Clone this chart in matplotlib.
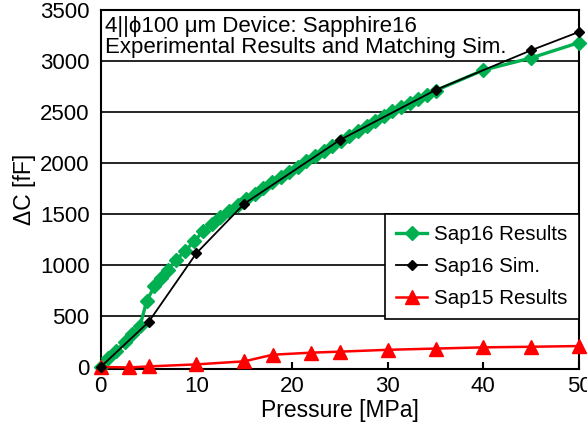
import matplotlib.pyplot as plt

plt.rcParams['font.family'] = ['Liberation Sans', 'DejaVu Sans']

# Sap16 experimental results
sap16_p = [0, 0.8, 1.6, 2.5, 3.3, 4.1, 4.8, 5.6, 6.3, 7.0, 7.9, 8.8, 9.8, 10.7,
           11.6, 12.5, 13.4, 14.3, 15.2, 16.1, 17.0, 17.9, 18.8, 19.7, 20.6,
           21.5, 22.4, 23.3, 24.2, 25.1, 26.0, 26.9, 27.8, 28.7, 29.6, 30.5,
           31.4, 32.3, 33.2, 34.1, 35.0, 40, 45, 50]
sap16_c = [0, 85, 160, 240, 320, 400, 645, 790, 870, 950, 1050, 1135, 1235, 1330,
           1400, 1470, 1530, 1585, 1645, 1700, 1755, 1810, 1865, 1915, 1965,
           2015, 2065, 2115, 2165, 2215, 2265, 2315, 2365, 2415, 2460, 2505,
           2550, 2590, 2630, 2670, 2710, 2910, 3030, 3180]

# Sap16 simulation
sim_p = [0, 5, 10, 15, 25, 35, 45, 50]
sim_c = [0, 440, 1115, 1600, 2225, 2715, 3105, 3285]

# Sap15 experimental results
sap15_p = [0, 3, 5, 10, 15, 18, 22, 25, 30, 35, 40, 45, 50]
sap15_c = [0, -5, 5, 25, 55, 120, 140, 150, 168, 180, 192, 198, 205]

fig = plt.figure(figsize=(5.87, 4.28), dpi=100)
ax = fig.add_axes([0.1716, 0.1367, 0.8148, 0.84])

for y in [500, 1000, 1500, 2000, 2500, 3000]:
    ax.axhline(y, color='black', lw=1.2, zorder=1)

ax.plot(sap16_p, sap16_c, color='#00B050', lw=2.4, marker='D', markersize=7,
        label='Sap16 Results', zorder=3, clip_on=False)
ax.plot(sim_p, sim_c, color='black', lw=1.3, marker='D', markersize=5.5,
        label='Sap16 Sim.', zorder=4, clip_on=False)
ax.plot(sap15_p, sap15_c, color='#FF0000', lw=1.8, marker='^', markersize=9.5,
        label='Sap15 Results', zorder=3, clip_on=False)

ax.set_xlim(0, 50)
ax.set_ylim(-25, 3500)
ax.set_xticks([0, 10, 20, 30, 40, 50])
ax.set_yticks([0, 500, 1000, 1500, 2000, 2500, 3000, 3500])
ax.tick_params(axis='x', direction='in', length=5, width=1.5, labelsize=16, pad=5)
ax.tick_params(axis='y', length=0, labelsize=16, pad=8)
for s in ax.spines.values():
    s.set_linewidth(1.5)

ax.set_xlabel('Pressure [MPa]', fontsize=16.5, labelpad=1)
ax.set_ylabel('ΔC [fF]', fontsize=16.5, labelpad=3)

ax.text(0.008, 0.982, '4||ϕ100 μm Device: Sapphire16\nExperimental Results and Matching Sim.',
        transform=ax.transAxes, ha='left', va='top', fontsize=16, linespacing=1.0,
        zorder=2)

leg = ax.legend(loc='upper right', bbox_to_anchor=(1.0, 0.4325), borderaxespad=0,
                fontsize=14.8, fancybox=False, framealpha=1, edgecolor='black',
                handlelength=1.5, handletextpad=0.35, labelspacing=0.62,
                borderpad=0.55)
leg.get_frame().set_linewidth(1.2)
leg.set_zorder(5)

fig.savefig('out.png', dpi=100)
